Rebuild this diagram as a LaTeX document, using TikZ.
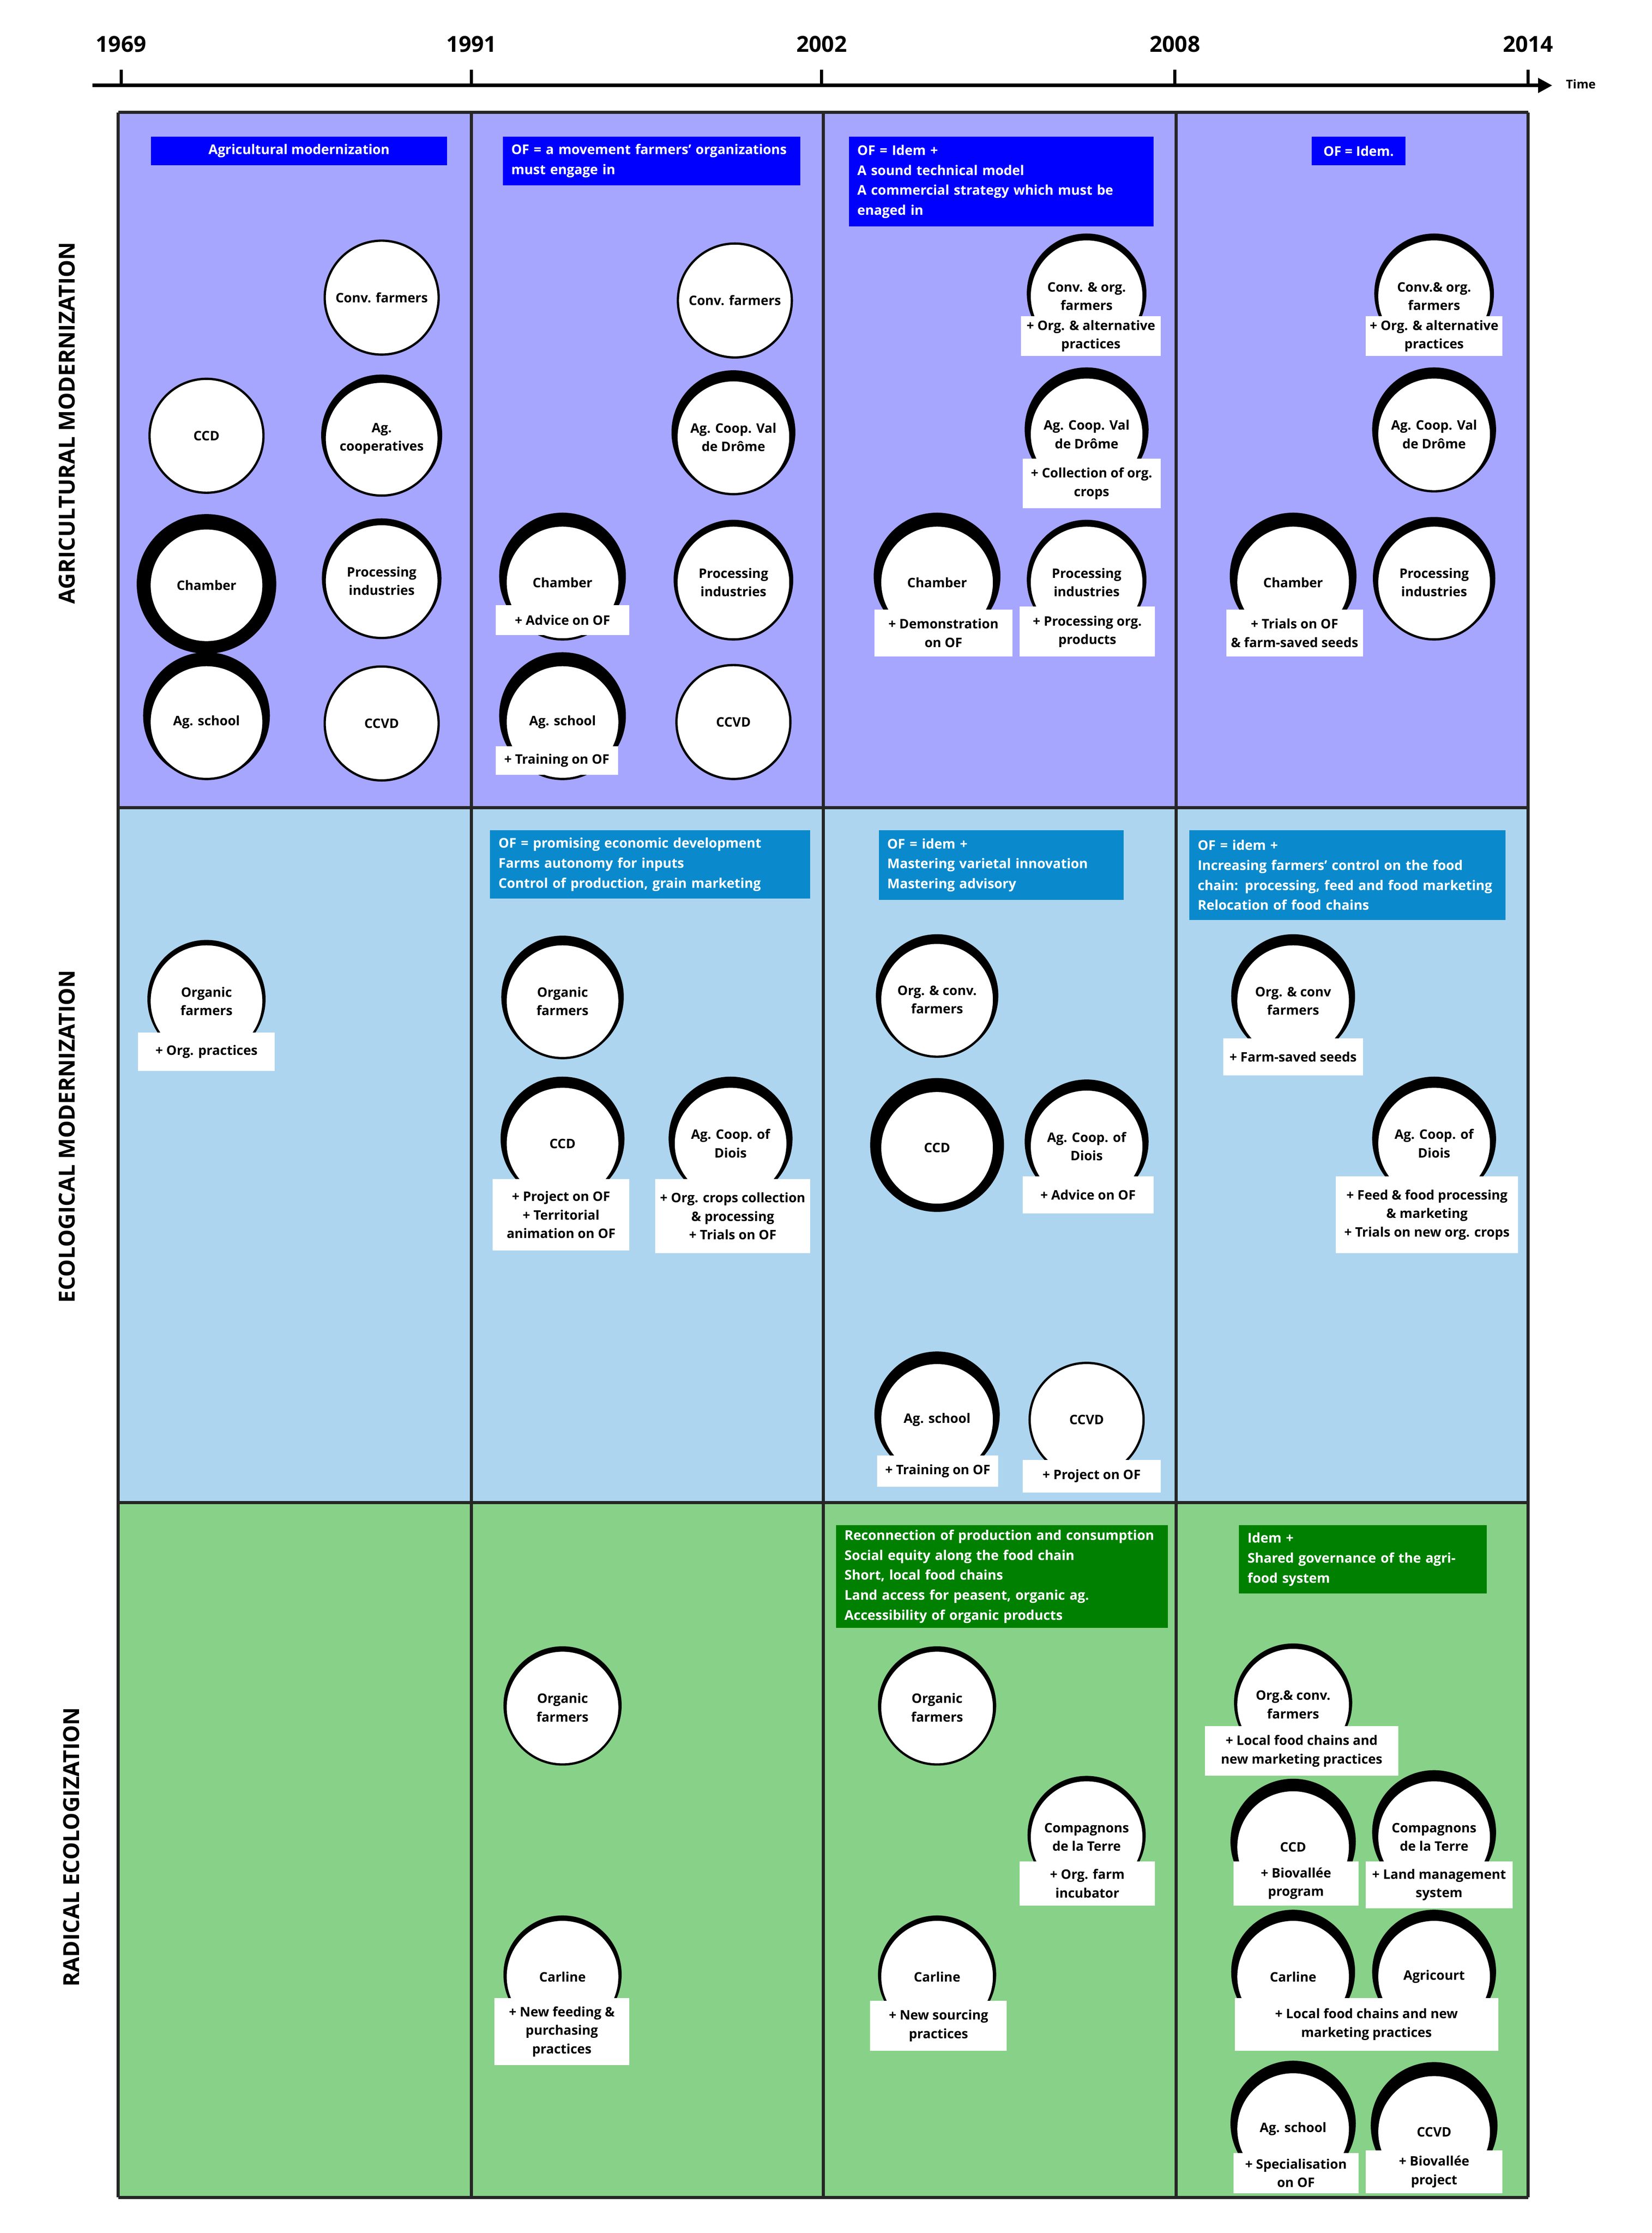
\documentclass[tikz,border=0pt]{standalone}
\usepackage{fontspec}
\setmainfont{Open Sans}
\usetikzlibrary{arrows.meta}
\definecolor{rowA}{HTML}{A6A6FF}
\definecolor{rowB}{HTML}{AED5EF}
\definecolor{rowC}{HTML}{88D188}
\definecolor{hdrA}{HTML}{0000FF}
\definecolor{hdrB}{HTML}{0A8ACC}
\definecolor{hdrC}{HTML}{008000}
\tikzset{
 actor/.style={circle,fill=white,draw=black,line width=1.6,minimum size=80,inner sep=0,align=center,font=\fontsize{9.2}{13}\selectfont\bfseries},
 lbl/.style={rectangle,fill=white,inner sep=1,align=center,font=\fontsize{9.2}{13}\selectfont\bfseries},
 hdr/.style={rectangle,inner sep=0,align=left,text=white,font=\fontsize{9.4}{14}\selectfont\bfseries},
 grid/.style={line width=2.2,draw=black!85},
}
\newcommand{\actor}[5]{\fill ({#2},{#3-#4/2}) circle[radius={40+#4/2}];\node[actor] (#1) at (#2,#3) {#5};}
\newcommand{\tag}[6]{\node[lbl,minimum width={(#4-#2)*1pt},minimum height={(#5-#3)*1pt}] (#1) at ({(#2+#4)/2},{(#3+#5)/2}) {#6};}
\newcommand{\head}[7]{\node[hdr,fill=#7,minimum width={(#4-#2)*1pt},minimum height={(#5-#3)*1pt},text width={(#4-#2-12)*1pt}] (#1) at ({(#2+#4)/2},{(#3+#5)/2}) {#6};}
\begin{document}
\begin{tikzpicture}[x=1pt,y=-1pt]
\useasboundingbox[fill=white] (0,0) rectangle (1160,1568);
% rows
\fill[rowA] (83,79) rectangle (1073,567);
\fill[rowB] (83,567) rectangle (1073,1055);
\fill[rowC] (83,1055) rectangle (1073,1543);
\foreach \x in {83,331,578,826,1073} \draw[grid] (\x,79) -- (\x,1543);
\foreach \y in {79,567,1055,1543} \draw[grid] (83,\y) -- (1073,\y);
% axis
\coordinate (a0) at (65,60); \coordinate (a1) at (1090,60);
\draw[line width=2.6,-{Triangle[length=10,width=10]}] (a0) -- (a1);
\foreach \x/\t in {85/1969,331/1991,577/2002,825/2008,1073/2014}{
 \draw[line width=2.2] (\x,60) -- (\x,49);
 \node[font=\fontsize{15.5}{18}\selectfont\bfseries] (y\t) at (\x,31) {\t};}
\node[font=\fontsize{8.5}{10}\selectfont\bfseries] (time) at (1110,59) {Time};
% row labels
\node[rotate=90,font=\fontsize{15.5}{18}\selectfont\bfseries] (rA) at (47,297) {AGRICULTURAL MODERNIZATION};
\node[rotate=90,font=\fontsize{15.5}{18}\selectfont\bfseries] (rB) at (47,798) {ECOLOGICAL MODERNIZATION};
\node[rotate=90,font=\fontsize{15.5}{18}\selectfont\bfseries] (rC) at (50,1297) {RADICAL ECOLOGIZATION};
% headers
\node[hdr,fill=hdrA,minimum width=208,minimum height=20,align=center] (h11) at (210,106) {Agricultural modernization};
\head{h12}{353}{96}{562}{130}{OF = a movement farmers' organizations\\must engage in}{hdrA}
\head{h13}{596}{96}{810}{159}{OF = Idem +\\A sound technical model\\A commercial strategy which must be\\enaged in}{hdrA}
\node[hdr,fill=hdrA,minimum width=66,minimum height=20,align=center] (h14) at (954,106) {OF = Idem.};
\head{h22}{344}{583}{569}{631}{OF = promising economic development\\Farms autonomy for inputs\\Control of production, grain marketing}{hdrB}
\head{h23}{617}{583}{789}{632}{OF = idem +\\Mastering varietal innovation\\Mastering advisory}{hdrB}
\head{h24}{835}{583}{1057}{646}{OF = idem +\\Increasing farmers' control on the food\\chain: processing, feed and food marketing\\Relocation of food chains}{hdrB}
\head{h33}{587}{1071}{820}{1143}{Reconnection of production and consumption\\Social equity along the food chain\\Short, local food chains\\Land access for peasent, organic ag.\\Accessibility of organic products}{hdrC}
\head{h34}{870}{1071}{1044}{1119}{Idem +\\Shared governance of the agri-\\food system}{hdrC}
% row 1
\actor{a1}{268}{209}{0}{Conv. farmers}
\actor{a2}{145}{306}{0}{CCD}
\actor{a3}{268}{308}{5}{Ag.\\cooperatives}
\fill (145,410) circle[radius=49];
\node[actor] (a4) at (145,411) {Chamber};
\actor{a5}{268}{408}{4}{Processing\\industries}
\actor{a6}{145}{507}{9}{Ag. school}
\actor{a7}{268}{508}{0}{CCVD}
\actor{b1}{516}{211}{0}{Conv. farmers}
\actor{b2}{515}{307}{7}{Ag. Coop. Val\\de Drôme}
\actor{b3}{395}{409}{9}{Chamber}
\tag{bt3}{348}{425}{442}{446}{+ Advice on OF}
\actor{b4}{515}{409}{4}{Processing\\industries}
\actor{b5}{395}{507}{9}{Ag. school}
\tag{bt5}{348}{524}{434}{544}{+ Training on OF}
\actor{b6}{515}{507}{0}{CCVD}
\actor{c1}{763}{208}{4}{Conv. \& org.\\farmers}
\tag{ct1}{717}{222}{815}{250}{+ Org. \& alternative\\practices}
\actor{c2}{763}{305}{7}{Ag. Coop. Val\\de Drôme}
\tag{ct2}{718}{322}{815}{357}{+ Collection of org.\\crops}
\actor{c3}{658}{409}{9}{Chamber}
\tag{ct3}{614}{428}{711}{461}{+ Demonstration\\on OF}
\actor{c4}{763}{409}{4}{Processing\\industries}
\tag{ct4}{716}{426}{811}{461}{+ Processing org.\\products}
\actor{d1}{1007}{208}{4}{Conv.\& org.\\farmers}
\tag{dt1}{959}{222}{1055}{250}{+ Org. \& alternative\\practices}
\actor{d2}{1007}{305}{7}{Ag. Coop. Val\\de Drôme}
\actor{d3}{908}{409}{9}{Chamber}
\tag{dt3}{861}{428}{957}{461}{+ Trials on OF\\\& farm-saved seeds}
\actor{d4}{1007}{409}{6}{Processing\\industries}
% row 2
\actor{e1}{145}{703}{3}{Organic\\farmers}
\tag{et1}{97}{725}{193}{752}{+ Org. practices}
\actor{f1}{395}{703}{6}{Organic\\farmers}
\actor{f2}{395}{803}{7}{CCD}
\tag{ft2}{346}{828}{442}{878}{+ Project on OF\\+ Territorial\\animation on OF}
\actor{f3}{513}{803}{7}{Ag. Coop. of\\Diois}
\tag{ft3}{460}{828}{569}{880}{+ Org. crops collection\\\& processing\\+ Trials on OF}
\actor{g1}{658}{702}{6}{Org. \& conv.\\farmers}
\fill (658,804) circle[radius=47];
\node[actor] (g2) at (658,806) {CCD};
\actor{g3}{763}{805}{7}{Ag. Coop. of\\Diois}
\tag{gt3}{718}{826}{810}{852}{+ Advice on OF}
\actor{g4}{658}{997}{8}{Ag. school}
\tag{gt4}{616}{1022}{701}{1044}{+ Training on OF}
\actor{g5}{763}{997}{0}{CCVD}
\tag{gt5}{718}{1025}{815}{1048}{+ Project on OF}
\actor{h1}{908}{703}{7}{Org. \& conv\\farmers}
\tag{ht1}{859}{729}{957}{755}{+ Farm-saved seeds}
\actor{h2}{1007}{803}{7}{Ag. Coop. of\\Diois}
\tag{ht2}{938}{826}{1066}{880}{+ Feed \& food processing\\\& marketing\\+ Trials on new org. crops}
% row 3
\actor{i1}{395}{1199}{3}{Organic\\farmers}
\actor{i2}{395}{1388}{3}{Carline}
\tag{it2}{347}{1403}{442}{1450}{+ New feeding \&\\purchasing\\practices}
\actor{j1}{658}{1199}{3}{Organic\\farmers}
\actor{j2}{763}{1290}{3}{Compagnons\\de la Terre}
\tag{jt2}{716}{1307}{811}{1338}{+ Org. farm\\incubator}
\actor{j3}{658}{1388}{3}{Carline}
\tag{jt3}{611}{1405}{707}{1440}{+ New sourcing\\practices}
\actor{k1}{908}{1197}{3}{Org.\& conv.\\farmers}
\tag{kt1}{846}{1212}{982}{1247}{+ Local food chains and\\new marketing practices}
\actor{k2}{908}{1297}{8}{CCD}
\tag{kt2}{866}{1307}{954}{1338}{+ Biovallée\\program}
\actor{k3}{1007}{1290}{7}{Compagnons\\de la Terre}
\tag{kt3}{959}{1307}{1062}{1340}{+ Land management\\system}
\actor{k4}{908}{1388}{7}{Carline}
\actor{k5}{1007}{1388}{7}{Agricourt}
\tag{kt45}{867}{1403}{1052}{1440}{+ Local food chains and new\\marketing practices}
\actor{k6}{908}{1495}{8}{Ag. school}
\tag{kt6}{866}{1512}{954}{1540}{+ Specialisation\\on OF}
\actor{k7}{1007}{1497}{9}{CCVD}
\tag{kt7}{959}{1510}{1055}{1540}{+ Biovallée\\project}
\end{tikzpicture}
\end{document}
